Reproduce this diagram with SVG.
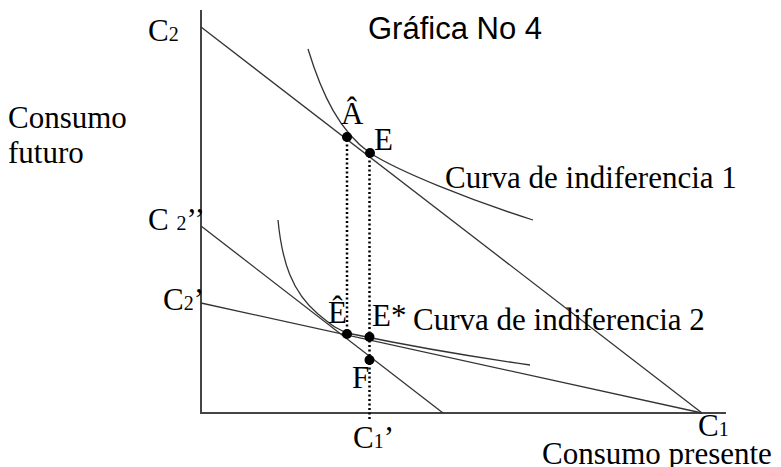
<svg xmlns="http://www.w3.org/2000/svg" width="781" height="467" viewBox="0 0 781 467">
<style>
.t{font-family:"Liberation Serif","Times New Roman",serif;font-size:31px;fill:#000}
.s{font-size:20px}
.ln{fill:none;stroke:#333;stroke-width:1.3}
.ax{fill:none;stroke:#444;stroke-width:2}
.dot{fill:#000}
.dt{fill:none;stroke:#000;stroke-width:2.5;stroke-dasharray:2 2.5}
</style>
<rect width="781" height="467" fill="#fff"/>
<g id="axes">
<line class="ax" x1="201" y1="10" x2="201" y2="414"/>
<line class="ax" x1="200" y1="413" x2="726" y2="413"/>
</g>
<g id="connectors">
<line class="ln" x1="201" y1="27" x2="702" y2="413"/>
<line class="ln" x1="201" y1="226" x2="443" y2="413"/>
<line class="ln" x1="201" y1="303" x2="702" y2="413"/>
<path class="ln" d="M308,49 C322,95 340,132 370,153 C400,172 470,200 533,220"/>
<path class="ln" stroke-width="1.6" d="M278,220 C282,262 292,292 318,314 C330,324 338,331 352,334 C400,344 460,355 530,365"/>
<line class="dt" x1="347" y1="140" x2="347" y2="334"/>
<line class="dt" x1="369.5" y1="156" x2="369.5" y2="421"/>
</g>
<g id="points">
<circle class="dot" cx="347" cy="137" r="5"/>
<circle class="dot" cx="370" cy="153" r="5"/>
<circle class="dot" cx="347" cy="334" r="5"/>
<circle class="dot" cx="369.5" cy="337" r="5"/>
<circle class="dot" cx="369.5" cy="360" r="5"/>
</g>
<g id="labels">
<text x="368" y="39" style="font-family:'Liberation Sans',Arial,sans-serif;font-size:31px">Gráfica No 4</text>
<text class="t" x="148" y="41">C<tspan class="s">2</tspan></text>
<text class="t" x="8" y="128">Consumo</text>
<text class="t" x="8" y="163">futuro</text>
<text class="t" x="341" y="124">Â</text>
<text class="t" x="374" y="150">E</text>
<text class="t" x="445" y="188">Curva de indiferencia 1</text>
<text class="t" x="148" y="230">C <tspan class="s">2</tspan>’’</text>
<text class="t" x="163" y="310">C<tspan class="s">2</tspan>’</text>
<text class="t" x="328" y="323">Ê</text>
<text class="t" x="372" y="326">E*</text>
<text class="t" x="413" y="330">Curva de indiferencia 2</text>
<text class="t" x="352" y="388">F</text>
<text class="t" x="353" y="448">C<tspan class="s">1</tspan>’</text>
<text class="t" x="698" y="436">C<tspan class="s">1</tspan></text>
<text class="t" x="542" y="464">Consumo presente</text>
</g>
</svg>
